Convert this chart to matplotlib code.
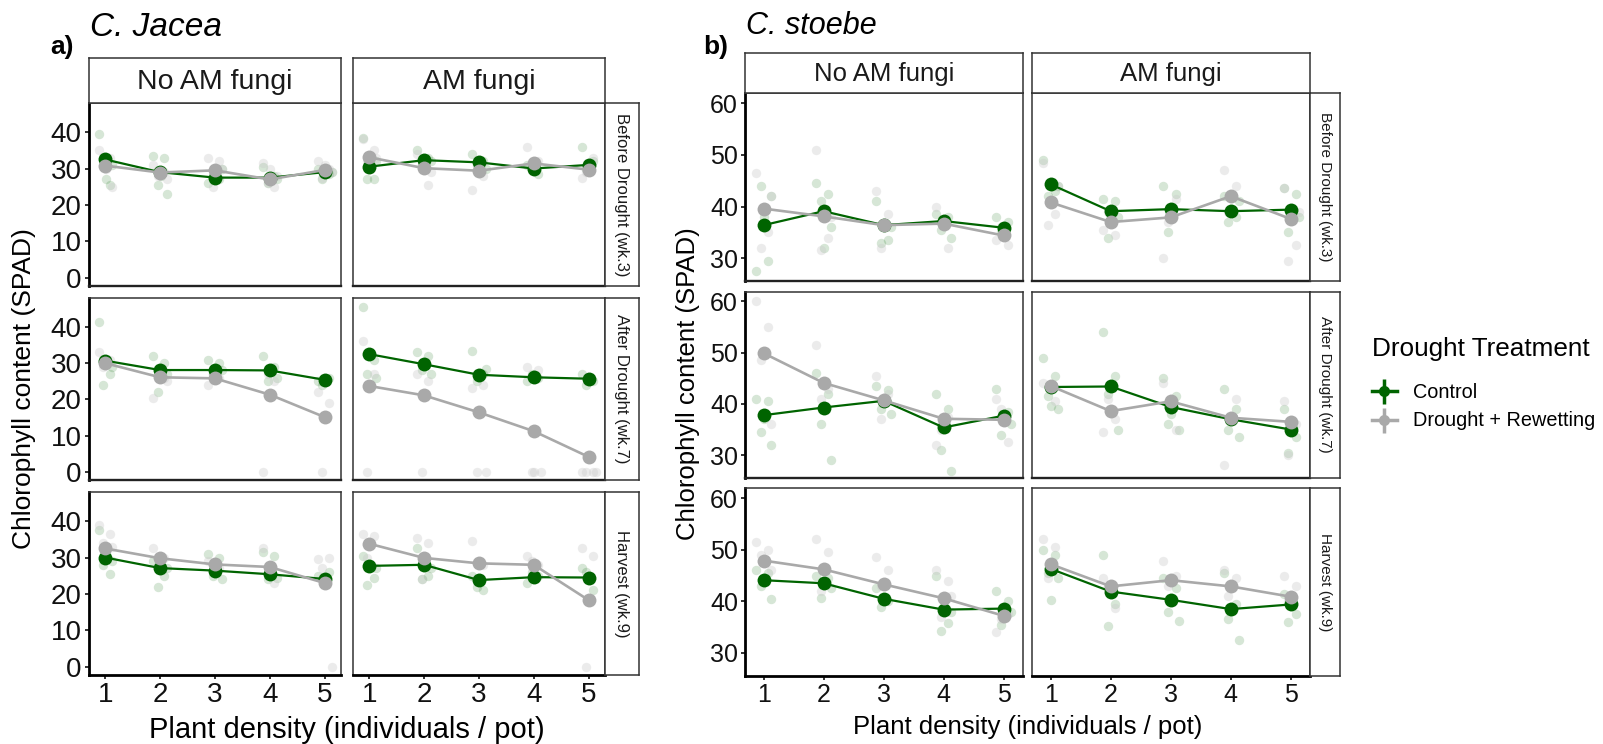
import numpy as np
import matplotlib
matplotlib.use("Agg")
import matplotlib.pyplot as plt
from matplotlib.lines import Line2D
from matplotlib.legend_handler import HandlerTuple

plt.rcParams['font.family'] = ['Liberation Sans', 'DejaVu Sans']

# ---------------- data ----------------
density = [1, 2, 3, 4, 5]
fungi_labels = ["No AM fungi", "AM fungi"]
time_labels = ["Before Drought (wk.3)", "After Drought (wk.7)", "Harvest (wk.9)"]
treatments = ["Control", "Drought + Rewetting"]

# means [time][fungi][density]
jacea_ctrl_means = [
    [[32.5, 29.0, 27.5, 27.5, 29.0], [30.5, 32.3, 31.7, 30.0, 31.0]],
    [[30.7, 28.1, 28.1, 28.0, 25.4], [32.5, 29.7, 26.8, 26.1, 25.7]],
    [[30.0, 27.1, 26.4, 25.4, 24.1], [27.7, 28.0, 23.8, 24.6, 24.5]],
]
jacea_drought_means = [
    [[30.8, 28.9, 29.5, 27.0, 29.6], [33.1, 30.1, 29.4, 31.4, 29.7]],
    [[30.0, 26.1, 25.8, 21.3, 15.1], [23.7, 21.1, 16.4, 11.2, 4.1]],
    [[32.5, 29.8, 28.1, 27.4, 23.0], [33.8, 29.9, 28.4, 28.0, 18.3]],
]
stoebe_ctrl_means = [
    [[36.4, 39.1, 36.4, 37.2, 35.9], [44.3, 39.1, 39.5, 39.1, 39.4]],
    [[37.8, 39.3, 40.6, 35.4, 37.7], [43.3, 43.4, 39.4, 37.0, 35.0]],
    [[44.1, 43.5, 40.5, 38.4, 38.6], [46.3, 41.9, 40.3, 38.5, 39.4]],
]
stoebe_drought_means = [
    [[39.6, 38.1, 36.4, 36.7, 34.4], [40.8, 37.0, 37.9, 42.0, 37.6]],
    [[49.9, 44.1, 40.7, 37.1, 36.9], [43.5, 38.6, 40.5, 37.3, 36.5]],
    [[47.9, 46.2, 43.3, 40.6, 37.2], [47.2, 42.9, 44.1, 42.9, 40.9]],
]

# raw observations [time][fungi][density] -> values
jacea_ctrl_raw = [
    [[[39.5, 25.5, 33, 31, 27], [33.5, 33, 25.5, 23, 28], [26, 27, 28, 30], [30.5, 28, 26, 27], [30, 28.5, 27, 29]],
     [[38.5, 27, 27, 32, 30], [35, 33, 31, 32], [34, 32, 31, 30], [31, 28.5, 30], [36, 32, 30]]],
    [[[41.5, 27, 24, 29, 31], [32, 30, 22, 27], [31, 30, 27, 28], [32, 29, 25, 26], [25, 26, 24]],
     [[45.5, 31, 27, 26], [33, 32, 28, 27], [33.5, 27, 25, 28.5], [25, 26, 27], [27, 25, 24]]],
    [[[37.5, 25.5, 28, 29, 31], [29, 25, 22, 27], [31, 30, 25, 24], [31.5, 30.5, 24, 24.5], [25, 26, 24]],
     [[30.5, 24.5, 22.5, 27], [32.5, 25, 24, 27], [25, 21, 22], [23, 25, 26], [27, 21, 26]]],
]
jacea_drought_raw = [
    [[[35, 33, 31, 25, 30], [31, 29, 28, 27], [33, 32, 25, 30, 29], [31.5, 25, 26, 28, 30], [32, 30, 27.5, 29, 31]],
     [[38, 35, 32, 33], [34, 25.5, 31, 29], [24, 28, 30], [36, 32, 30], [27.5, 33, 29]]],
    [[[33, 31, 29], [20.5, 26, 28, 25], [24, 26, 27], [0, 25, 27], [22, 19, 0]],
     [[36, 27, 0], [27, 25, 0], [23, 24, 0, 0], [29, 28, 0, 0, 0], [0, 0, 0, 0]]],
    [[[39, 36.5, 34, 33], [32.5, 30, 28], [29, 27, 28], [32.5, 23, 27], [29.5, 29.8, 27, 0]],
     [[36.5, 36, 30], [35.5, 34, 24], [34.5, 28], [30.5, 28, 29], [32.5, 30.5, 0]]],
]
stoebe_ctrl_raw = [
    [[[27.5, 29.5, 44, 42, 38], [44.5, 42.5, 41, 36, 32], [41, 33.5, 33, 36], [38.5, 38, 35.5, 34], [38, 37, 35]],
     [[49, 43, 42, 44], [41.5, 41, 34, 38], [44, 42.5, 35], [42, 38, 37, 41], [43.5, 42.5, 35, 38]]],
    [[[41, 40.5, 34.5, 32, 37], [46, 42, 36, 29], [43.5, 42.8, 39, 38], [42, 39, 31, 27], [43, 38.5, 34, 36]],
     [[49, 45.5, 41.5, 39, 39.5], [54, 45.5, 42, 35], [45, 41.5, 36, 35, 38], [43, 39, 35, 33.5], [39, 33.5, 30.5]]],
    [[[46, 45.5, 43, 40.5], [45, 44.5, 40.7, 42.5], [42.5, 40, 39], [45, 35.8, 34.2, 38], [42, 40, 35.5, 38]],
     [[50, 49, 45.5, 44.5, 40.3], [49, 39.5, 35.3], [44.5, 42.5, 38, 36.2], [45.5, 39.5, 36.5, 32.6], [41.5, 37.5, 36]]],
]
stoebe_drought_raw = [
    [[[46.5, 35, 32, 42], [51, 34, 31.5, 38], [43, 38.5, 32], [40, 32, 37], [33.5, 32.5, 36]],
     [[48.5, 38.5, 36.5, 44], [35.5, 34.5, 39], [30, 41.5, 37], [47, 44, 39], [43.5, 32.5, 29.5, 39]]],
    [[[60, 55, 48.5, 36], [51.5, 43, 41], [45.5, 42, 37], [32, 37.5, 35], [41, 32.5, 39]],
     [[44, 40.5], [34.5, 37, 41], [44, 35], [28, 41], [40.5, 36, 30]]],
    [[[51.5, 50, 49, 46], [52, 49.5, 42], [48.5, 46, 43], [46, 44, 37, 41], [34, 37.5, 36.5]],
     [[52, 50.5, 44.5], [44.5, 38.8, 43], [47.8, 45, 43], [46, 44.5, 41], [45, 43, 40]]],
]

# ---------------- style ----------------
GREEN = "#006400"
GREY = "#A9A9A9"
RAW_GREEN = "#006400"
RAW_GREY = "#C8C8C8"
BORDER = "#333333"
JIT = [-0.12, 0.08, -0.04, 0.13, 0.01, -0.08, 0.05]

W, H = 1603, 744
fig = plt.figure(figsize=(W / 100, H / 100), dpi=100)


def rect(x0, y0, x1, y1):
    return [x0 / W, 1 - y1 / H, (x1 - x0) / W, (y1 - y0) / H]


def draw_block(cols_x, rows_y, strip_y, rstrip_x, xlim, ylim, yticks,
               ctrl_means, dr_means, ctrl_raw, dr_raw,
               fs_tick, fs_strip, fs_rstrip):
    for r in range(3):
        for c in range(2):
            ax = fig.add_axes(rect(cols_x[c][0], rows_y[r][0], cols_x[c][1], rows_y[r][1]))
            for raw, col, al in ((ctrl_raw, RAW_GREEN, 0.16), (dr_raw, RAW_GREY, 0.35)):
                for d in range(5):
                    vals = raw[r][c][d]
                    xs = [density[d] + JIT[i % len(JIT)] for i in range(len(vals))]
                    ax.scatter(xs, vals, s=46, color=col, alpha=al, linewidths=0, zorder=2)
            ax.plot(density, ctrl_means[r][c], color=GREEN, lw=1.6, zorder=3,
                    marker='o', markersize=10, markeredgewidth=0)
            ax.plot(density, dr_means[r][c], color=GREY, lw=1.9, zorder=4,
                    marker='o', markersize=10, markeredgewidth=0)
            ax.set_xlim(*xlim)
            ax.set_ylim(*ylim)
            ax.set_xticks(density)
            ax.set_yticks(yticks)
            for s in ax.spines.values():
                s.set_color(BORDER)
                s.set_linewidth(1.1)
            ax.spines['bottom'].set_color('#222222')
            ax.spines['bottom'].set_linewidth(1.7)
            ax.tick_params(length=3, width=1.4, color=BORDER, labelsize=fs_tick,
                           labelcolor="#111111", pad=2)
            if c == 0:
                ax.spines['left'].set_color('black')
                ax.spines['left'].set_linewidth(2.0)
            else:
                ax.tick_params(axis='y', left=False, labelleft=False)
            if r == 2:
                ax.spines['bottom'].set_color('black')
                ax.spines['bottom'].set_linewidth(2.0)
            else:
                ax.tick_params(axis='x', bottom=False, labelbottom=False)
        # right strip
        sx = fig.add_axes(rect(rstrip_x[0], rows_y[r][0], rstrip_x[1], rows_y[r][1]))
        sx.set_xticks([]); sx.set_yticks([])
        for s in sx.spines.values():
            s.set_color(BORDER); s.set_linewidth(1.1)
        sx.text(0.5, 0.5, time_labels[r], rotation=-90, ha='center', va='center',
                fontsize=fs_rstrip, color='#1a1a1a', transform=sx.transAxes)
    for c in range(2):
        sx = fig.add_axes(rect(cols_x[c][0], strip_y[0], cols_x[c][1], strip_y[1]))
        sx.set_xticks([]); sx.set_yticks([])
        for s in sx.spines.values():
            s.set_color(BORDER); s.set_linewidth(1.1)
        sx.text(0.5, 0.47, fungi_labels[c], ha='center', va='center',
                fontsize=fs_strip, color='#1a1a1a', transform=sx.transAxes)


# ---------- panel a: C. jacea ----------
a_cols = [(88.7, 341), (352.7, 605)]
a_rows = [(102.7, 286), (297.7, 480), (491.7, 675)]
draw_block(a_cols, a_rows, (57.7, 102.7), (605, 639), (0.7, 5.3), (-2.3, 48.1),
           [0, 10, 20, 30, 40], jacea_ctrl_means, jacea_drought_means,
           jacea_ctrl_raw, jacea_drought_raw, 20, 20.5, 12)

# ---------- panel b: C. stoebe ----------
b_cols = [(745, 1022.8), (1032, 1310)]
b_rows = [(93.3, 281), (291.7, 477.7), (488.3, 675.7)]
draw_block(b_cols, b_rows, (53.3, 93.3), (1310, 1340), (0.69, 5.32), (25.6, 61.9),
           [30, 40, 50, 60], stoebe_ctrl_means, stoebe_drought_means,
           stoebe_ctrl_raw, stoebe_drought_raw, 18, 18.5, 11)

# titles and labels
fig.text(62 / W, 1 - 47 / H, "a)", fontsize=19, fontweight='bold', ha='center', va='center')
fig.text(90 / W, 1 - 27 / H, "C. Jacea", fontsize=24, style='italic', ha='left', va='center')
fig.text(716 / W, 1 - 47 / H, "b)", fontsize=19, fontweight='bold', ha='center', va='center')
fig.text(746 / W, 1 - 26 / H, "C. stoebe", fontsize=22, style='italic', ha='left', va='center')

fig.text(24 / W, 1 - 389 / H, "Chlorophyll content (SPAD)", rotation=90, fontsize=19,
         ha='center', va='center')
fig.text(688 / W, 1 - 384 / H, "Chlorophyll content (SPAD)", rotation=90, fontsize=18.5,
         ha='center', va='center')
fig.text(347 / W, 1 - 730 / H, "Plant density (individuals / pot)", fontsize=21,
         ha='center', va='center')
fig.text(1027.5 / W, 1 - 727 / H, "Plant density (individuals / pot)", fontsize=18.5,
         ha='center', va='center')

# legend
handles = []
for col in (GREEN, GREY):
    h1 = Line2D([], [], color=col, lw=2.5, marker='o', markersize=8, markeredgewidth=0)
    h2 = Line2D([], [], color=col, lw=0, marker='|', markersize=18, markeredgewidth=2.5)
    handles.append((h1, h2))
leg = fig.legend(handles, treatments, handler_map={tuple: HandlerTuple(ndivide=1, pad=0)},
                 loc='upper left', bbox_to_anchor=(1372 / W, 1 - 337 / H),
                 frameon=False, fontsize=14.3, title="Drought Treatment",
                 title_fontsize=18.8, handlelength=1.25, handletextpad=0.8,
                 borderpad=0, borderaxespad=0, labelspacing=0.5, alignment='left')
leg._legend_box.sep = 15.5

fig.savefig("out.png", dpi=100)
